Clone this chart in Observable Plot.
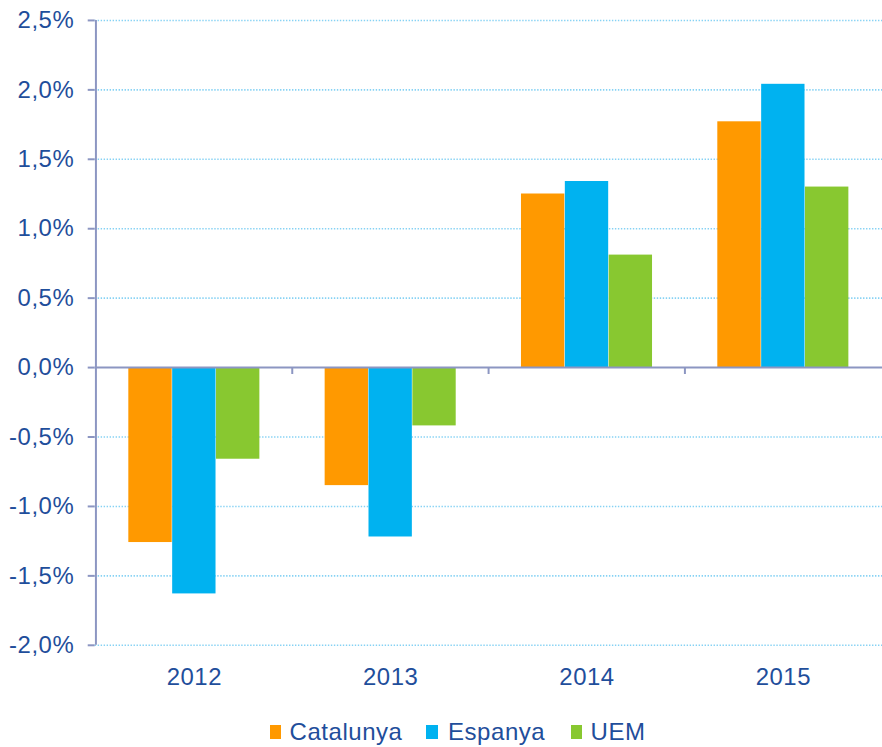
<!DOCTYPE html>
<html><head><meta charset="utf-8">
<script src="https://cdn.jsdelivr.net/npm/d3@7"></script>
<script src="https://cdn.jsdelivr.net/npm/@observablehq/plot@0.6"></script>
<style>
html,body{margin:0;padding:0;background:#fff;overflow:hidden;}
#chart{position:relative;width:882px;height:747px;overflow:hidden;}
#chart svg{position:absolute;left:0;top:0;}
.sw{position:absolute;top:725px;width:11.5px;height:13.5px;}
.lt{position:absolute;top:718px;font-family:"Liberation Sans",Arial,sans-serif;font-size:24px;letter-spacing:0.55px;color:#1F4E9B;line-height:28px;white-space:nowrap;}
</style></head><body><div id="chart"></div>
<script>
const years = ["2012", "2013", "2014", "2015"];
const series = ["Catalunya", "Espanya", "UEM"];
const catalunya = [-1.26, -0.85, 1.25, 1.77];
const espanya = [-1.63, -1.22, 1.34, 2.04];
const uem = [-0.66, -0.42, 0.81, 1.30];
const colors = ["#FF9900", "#00B2F0", "#88C830"];
const yTicks = [-2, -1.5, -1, -0.5, 0, 0.5, 1, 1.5, 2, 2.5];

const values = [catalunya, espanya, uem];
const data = [];
series.forEach((s, i) => years.forEach((y, j) => data.push({series: s, year: y, value: values[i][j]})));

const W = 885, ML = 95, MR = 0, MT = 20, H = 702, MB = 55;
const step = (W - ML - MR) / years.length;
const bw = 44;
const po = (step - series.length * bw) / 2;
const axisColor = "#8C96C2";
const textColor = "#1F4E9B";
const fmt = v => d3.format(".1f")(v).replace(".", ",").replace("\u2212", "-") + "%";

const bars = series.map((s, i) => Plot.barY(data.filter(d => d.series === s), {
  x: "year", y: "value", fill: colors[i],
  insetLeft: po + i * bw, insetRight: step - po - (i + 1) * bw
}));

const chart = Plot.plot({
  width: W, height: H,
  marginLeft: ML, marginRight: MR, marginTop: MT, marginBottom: MB,
  style: {background: "#fff", overflow: "visible", letterSpacing: "0.55px"},
  x: {type: "band", domain: years, padding: 0},
  y: {domain: [-2, 2.5]},
  marks: [
    Plot.gridY(yTicks.filter(t => t !== 0), {stroke: "#86D2F4", strokeOpacity: 1, strokeWidth: 1.6, strokeDasharray: "1.4,1.6"}),
    ...bars,
    Plot.ruleY([0], {stroke: axisColor, strokeWidth: 2}),
    Plot.ruleX([years[0]], {x: d => d, y1: -2, y2: 2.5, dx: -step / 2, stroke: axisColor, strokeWidth: 2}),
    Plot.ruleX(years.slice(1), {x: d => d, y1: 0, y2: -0.05, dx: -step / 2, stroke: axisColor, strokeWidth: 2}),
    Plot.axisY({ticks: yTicks, tickFormat: fmt, tickSize: 7, tickPadding: 14, stroke: axisColor, strokeWidth: 2,
      fill: textColor, fontSize: 24, fontFamily: "'Liberation Sans', Arial, sans-serif", label: null}),
    Plot.axisX({tickSize: 0, tickPadding: 23, fill: textColor, fontSize: 24,
      fontFamily: "'Liberation Sans', Arial, sans-serif", label: null})
  ]
});
const root = document.getElementById("chart");
root.appendChild(chart);

const swatchLeft = [269.5, 426, 570.5];
const textLeft = [289.5, 448, 590.5];
series.forEach((s, i) => {
  const sw = document.createElement("div");
  sw.className = "sw";
  sw.style.left = swatchLeft[i] + "px";
  sw.style.background = colors[i];
  root.appendChild(sw);
  const t = document.createElement("div");
  t.className = "lt";
  t.style.left = textLeft[i] + "px";
  t.textContent = s;
  root.appendChild(t);
});
</script></body></html>
